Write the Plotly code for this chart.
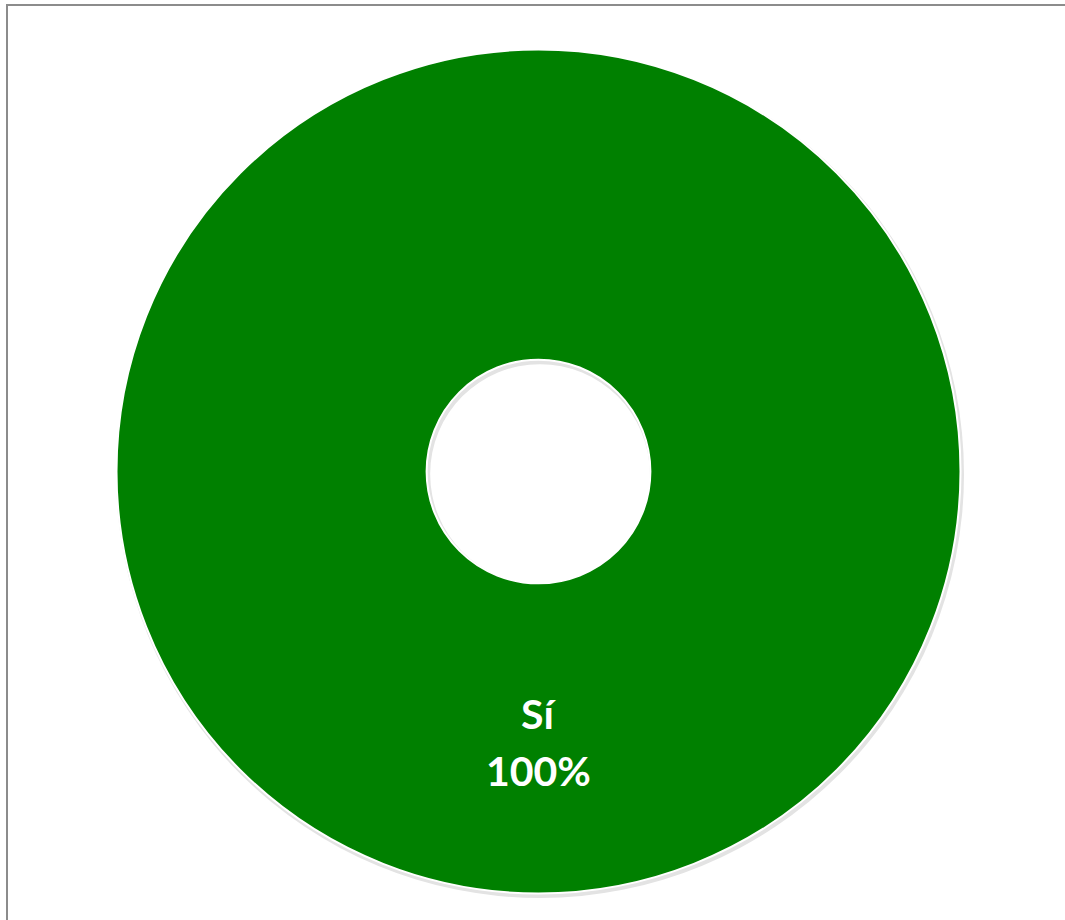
import plotly.graph_objects as go

labels = ["Sí"]
values = [100]
colors = ["#008000"]

W, H = 1065, 920
cx, cy, r = 538.5, 471.5, 422
hole = 0.265
rh = r * hole

total = sum(values)
pct_text = f"{round(values[0] / total * 100)}%"

fig = go.Figure()
fig.add_trace(go.Pie(
    labels=labels,
    values=values,
    hole=hole,
    sort=False,
    direction="clockwise",
    textinfo="none",
    hoverinfo="label+percent",
    marker=dict(colors=colors, line=dict(color="white", width=2)),
    domain=dict(x=[(cx - r) / W, (cx + r) / W], y=[1 - (cy + r) / H, 1 - (cy - r) / H]),
    showlegend=False,
))


def circ(x0, y0, rad, color):
    return dict(type="circle", xref="paper", yref="paper", layer="below",
                x0=(x0 - rad) / W, x1=(x0 + rad) / W,
                y0=1 - (y0 + rad) / H, y1=1 - (y0 - rad) / H,
                fillcolor=color, line=dict(width=0))


dx, dy = 1.5, 2.5
shapes = [
    circ(cx + dx, cy + dy, r + 2, "#e3e3e3"),
    circ(cx + dx, cy + dy, rh - 2, "white"),
    dict(type="rect", xref="paper", yref="paper",
         x0=7 / W, x1=1.2, y0=-0.2, y1=1 - 5 / H,
         line=dict(color="#8c8c8c", width=2), fillcolor="rgba(0,0,0,0)"),
]

fig.update_layout(
    width=W, height=H,
    margin=dict(l=0, r=0, t=0, b=0),
    paper_bgcolor="white",
    plot_bgcolor="white",
    shapes=shapes,
    annotations=[
        dict(text=labels[0], xref="paper", yref="paper",
             x=cx / W, y=1 - 713 / H, xanchor="center", yanchor="middle", showarrow=False,
             font=dict(family="Lato", size=41, color="white", weight="bold")),
        dict(text=pct_text, xref="paper", yref="paper",
             x=cx / W, y=1 - 770 / H, xanchor="center", yanchor="middle", showarrow=False,
             font=dict(family="Lato", size=41, color="white", weight="bold")),
    ],
)

fig.write_html("out.html", config={"displayModeBar": False},
               post_script="document.body.style.margin='0';")
